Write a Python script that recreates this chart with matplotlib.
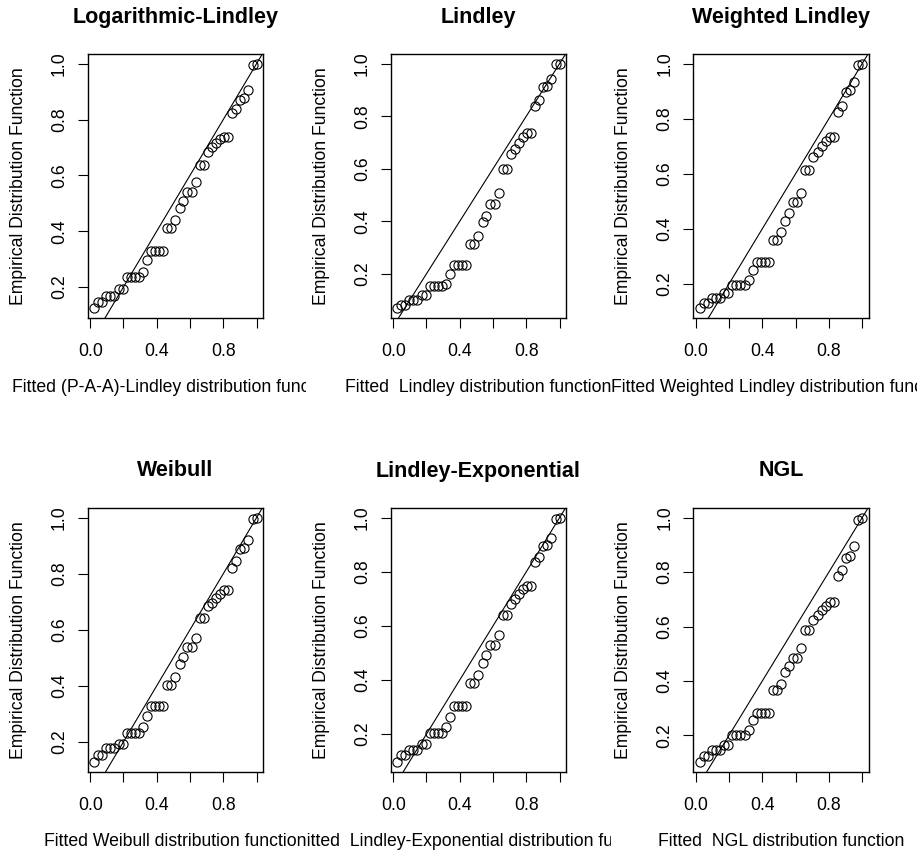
import numpy as np
import matplotlib
matplotlib.use('Agg')
import matplotlib.pyplot as plt
from matplotlib.transforms import Bbox, TransformedBbox

plt.rcParams['font.family'] = ['Liberation Sans', 'DejaVu Sans']

# empirical positions (same data for all six fits)
x_emp = [0.024, 0.049, 0.073, 0.098, 0.122, 0.146, 0.171, 0.195, 0.220, 0.244,
         0.268, 0.293, 0.317, 0.341, 0.366, 0.390, 0.415, 0.439, 0.463, 0.488,
         0.512, 0.537, 0.561, 0.585, 0.610, 0.634, 0.659, 0.683, 0.707, 0.732,
         0.756, 0.780, 0.805, 0.829, 0.854, 0.878, 0.902, 0.927, 0.951, 0.976, 1.000]

log_lindley = [0.125, 0.146, 0.146, 0.169, 0.169, 0.169, 0.193, 0.193, 0.236, 0.236,
               0.236, 0.236, 0.252, 0.295, 0.330, 0.330, 0.330, 0.330, 0.412, 0.412,
               0.440, 0.483, 0.509, 0.542, 0.542, 0.575, 0.638, 0.638, 0.684, 0.702,
               0.717, 0.729, 0.738, 0.738, 0.822, 0.838, 0.871, 0.877, 0.905, 0.995, 1.000]
lindley = [0.070, 0.083, 0.083, 0.102, 0.102, 0.102, 0.121, 0.121, 0.152, 0.152,
           0.152, 0.152, 0.162, 0.200, 0.232, 0.232, 0.232, 0.232, 0.315, 0.315,
           0.344, 0.398, 0.419, 0.465, 0.465, 0.509, 0.598, 0.598, 0.655, 0.675,
           0.700, 0.720, 0.737, 0.737, 0.840, 0.863, 0.912, 0.915, 0.942, 1.000, 1.000]
weighted_lindley = [0.112, 0.129, 0.129, 0.148, 0.148, 0.148, 0.166, 0.166, 0.194, 0.194,
                    0.194, 0.194, 0.212, 0.251, 0.279, 0.279, 0.279, 0.279, 0.358, 0.358,
                    0.389, 0.429, 0.456, 0.496, 0.496, 0.531, 0.612, 0.612, 0.660, 0.680,
                    0.700, 0.720, 0.733, 0.733, 0.825, 0.848, 0.897, 0.906, 0.933, 0.994, 1.000]
weibull = [0.128, 0.152, 0.152, 0.176, 0.176, 0.176, 0.192, 0.192, 0.232, 0.232,
           0.232, 0.232, 0.254, 0.292, 0.328, 0.328, 0.328, 0.328, 0.403, 0.403,
           0.433, 0.478, 0.504, 0.540, 0.540, 0.570, 0.642, 0.642, 0.684, 0.696,
           0.713, 0.729, 0.741, 0.741, 0.821, 0.845, 0.887, 0.893, 0.920, 0.994, 1.000]
lindley_exp = [0.097, 0.122, 0.122, 0.141, 0.141, 0.141, 0.163, 0.163, 0.205, 0.205,
               0.205, 0.205, 0.225, 0.262, 0.304, 0.304, 0.304, 0.304, 0.388, 0.388,
               0.419, 0.462, 0.493, 0.530, 0.530, 0.567, 0.641, 0.641, 0.682, 0.700,
               0.719, 0.735, 0.749, 0.749, 0.836, 0.855, 0.897, 0.901, 0.926, 0.994, 1.000]
ngl = [0.102, 0.122, 0.122, 0.145, 0.145, 0.145, 0.163, 0.163, 0.200, 0.200,
       0.200, 0.200, 0.218, 0.255, 0.282, 0.282, 0.282, 0.282, 0.366, 0.366,
       0.388, 0.434, 0.455, 0.483, 0.483, 0.520, 0.588, 0.588, 0.625, 0.643,
       0.662, 0.676, 0.689, 0.689, 0.785, 0.809, 0.852, 0.861, 0.895, 0.991, 1.000]

titles = ['Logarithmic-Lindley', 'Lindley', 'Weighted Lindley',
          'Weibull', 'Lindley-Exponential', 'NGL']
xlabels = ['Fitted (P-A-A)-Lindley distribution function',
           'Fitted  Lindley distribution function',
           'Fitted Weighted Lindley distribution function',
           'Fitted Weibull distribution function',
           'Fitted  Lindley-Exponential distribution function',
           'Fitted  NGL distribution function']
series = [log_lindley, lindley, weighted_lindley, weibull, lindley_exp, ngl]


def rlim(v):
    # R style axis range: data range widened by 4% each side
    lo, hi = min(v), max(v)
    d = 0.04 * (hi - lo)
    return lo - d, hi + d


W, H = 917, 858
fig = plt.figure(figsize=(W / 100, H / 100), dpi=100)

lefts = [87.7, 390.7, 693.3]
tops = [54, 508]
aw, ah = 175.3, 263.7
regions = [(0, 305.7), (305.7, 611.3), (611.3, 917)]

for k in range(6):
    r, c = k // 3, k % 3
    L, T = lefts[c], tops[r]
    ax = fig.add_axes([L / W, 1 - (T + ah) / H, aw / W, ah / H])
    ax.plot(x_emp, series[k], 'o', mfc='none', mec='black', ms=6.6, mew=0.8)
    ax.set_xlim(rlim(x_emp))
    ax.set_ylim(rlim(series[k]))
    ax.axline((0, 0), (1, 1), color='black', lw=0.8)
    ax.set_xlim(rlim(x_emp))
    ax.set_ylim(rlim(series[k]))
    ax.set_xticks([0, 0.2, 0.4, 0.6, 0.8, 1.0])
    ax.set_xticklabels(['0.0', '', '0.4', '', '0.8', ''])
    ax.set_yticks([0.2, 0.4, 0.6, 0.8, 1.0])
    ax.set_yticklabels(['0.2', '0.4', '0.6', '0.8', '1.0'], rotation=90, va='center')
    ax.tick_params(direction='out', length=7.2, width=0.8, labelsize=12.7)
    ax.tick_params(axis='x', pad=11)
    ax.tick_params(axis='y', pad=7)
    for s in ax.spines.values():
        s.set_linewidth(1.0)

    cx = L + aw / 2
    fig.text(cx / W, 1 - (T - 37) / H, titles[k], ha='center', va='center',
             fontsize=15.5, fontweight='bold')
    fig.text((L - 69.5) / W, 1 - (T + ah / 2) / H, 'Empirical Distribution Function',
             rotation=90, ha='center', va='center', fontsize=12.7)
    t = fig.text(cx / W, 1 - (T + ah + 70) / H, xlabels[k], ha='center', va='center',
                 fontsize=12.7)
    x0, x1 = regions[c]
    t.set_clip_box(TransformedBbox(Bbox.from_extents(x0 / W, 0, x1 / W, 1), fig.transFigure))
    t.set_clip_on(True)

fig.savefig('out.png', dpi=100)
